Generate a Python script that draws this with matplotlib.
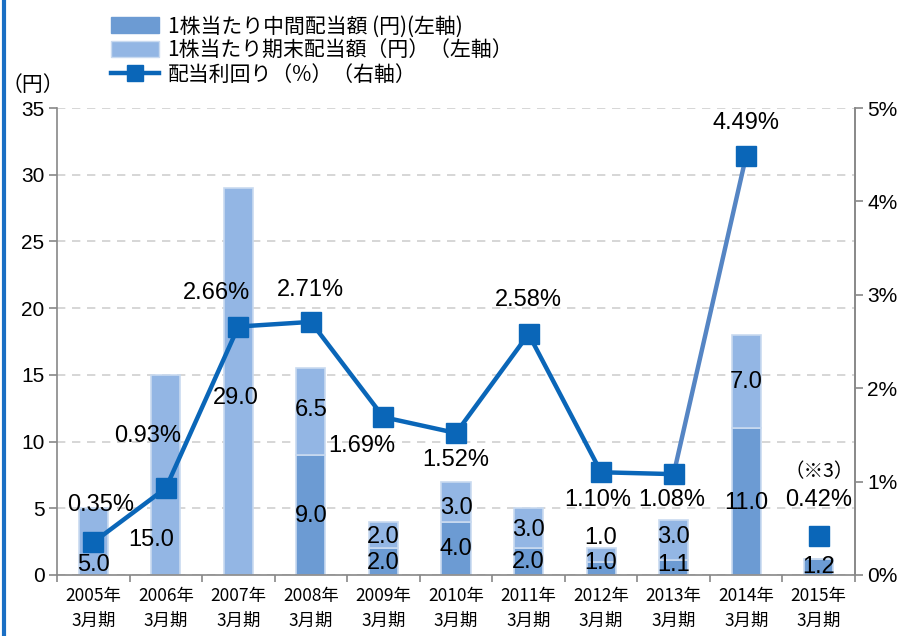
import matplotlib
matplotlib.use("Agg")
import matplotlib.pyplot as plt
import numpy as np
from matplotlib.lines import Line2D
from matplotlib.patches import Patch

plt.rcParams['font.family'] = ['Liberation Sans', 'Noto Sans CJK JP', 'DejaVu Sans']

categories = ["2005年\n3月期", "2006年\n3月期", "2007年\n3月期", "2008年\n3月期", "2009年\n3月期",
              "2010年\n3月期", "2011年\n3月期", "2012年\n3月期", "2013年\n3月期", "2014年\n3月期",
              "2015年\n3月期"]
interim = [0, 0, 0, 9.0, 2.0, 4.0, 2.0, 1.0, 1.1, 11.0, 1.2]
year_end = [5.0, 15.0, 29.0, 6.5, 2.0, 3.0, 3.0, 1.0, 3.0, 7.0, 0]
yield_pct = [0.35, 0.93, 2.66, 2.71, 1.69, 1.52, 2.58, 1.10, 1.08, 4.49, 0.42]

# label placement (left-axis units for bar labels, right-axis units for yield labels)
interim_lbl_y = [None, None, None, 4.4, 0.9, 1.95, 1.0, 0.9, 0.75, 5.4, 0.6]
end_lbl_y = [0.75, 2.6, 13.3, 12.4, 2.85, 5.0, 3.4, 2.8, 2.85, 14.5, None]
end_lbl_dx = [0, -0.2, -0.03, 0, 0, 0, 0, 0, 0, 0, 0]
yield_lbl_pos = [(0.1, 0.75), (-0.25, 1.49), (-0.3, 3.02), (0, 3.05), (-0.3, 1.38), (0, 1.23),
                 (0, 2.94), (-0.04, 0.80), (-0.02, 0.80), (0, 4.84), (0, 0.80)]

c_int = '#6c9bd3'
c_end = '#93b6e4'
c_line = '#0a66b8'
c_line2 = '#5585c4'

fig = plt.figure(figsize=(9.15, 6.36), dpi=100)
ax = fig.add_axes([57/915, 61/636, 798/915, 467/636])
x = np.arange(len(categories))
w = 0.4

ax.bar(x, interim, w, color=c_int, edgecolor='#c9daf0', linewidth=1.2, zorder=2)
ax.bar(x, year_end, w, bottom=interim, color=c_end, edgecolor='#c9daf0', linewidth=1.2, zorder=2)

ax.set_xlim(-0.5, len(categories) - 0.5)
ax.set_ylim(0, 35)
ax.set_yticks(np.arange(0, 36, 5))
ax.set_yticklabels([str(v) for v in range(0, 36, 5)], fontsize=15)
ax.yaxis.grid(True, color='#d0d0d0', linestyle=(0, (5, 4)), linewidth=1.2)
ax.set_axisbelow(True)
ax.set_xticks(x)
ax.set_xticklabels(categories, fontsize=12.5, family=['Noto Sans CJK JP'], linespacing=1.45)
ax.set_xticks(np.arange(-0.5, len(categories)), minor=True)
ax.tick_params(axis='x', which='major', length=0, pad=9)
ax.tick_params(axis='x', which='minor', length=5, color='#888888', width=1.2)
ax.tick_params(axis='y', length=6, color='#888888', width=1.2, pad=3)
ax.spines['top'].set_visible(False)
for s in ['left', 'bottom', 'right']:
    ax.spines[s].set_color('#888888')
    ax.spines[s].set_linewidth(1.2)

for i in range(len(categories)):
    if interim[i] and interim_lbl_y[i] is not None:
        ax.text(x[i], interim_lbl_y[i], f"{interim[i]:.1f}", ha='center', va='center', fontsize=17, zorder=6)
    if year_end[i] and end_lbl_y[i] is not None:
        ax.text(x[i] + end_lbl_dx[i], end_lbl_y[i], f"{year_end[i]:.1f}", ha='center', va='center', fontsize=17, zorder=6)

ax2 = ax.twinx()
ax2.set_ylim(0, 5)
ax2.set_yticks(np.arange(0, 6, 1))
ax2.set_yticklabels([f"{v}%" for v in range(6)], fontsize=15)
ax2.tick_params(axis='y', length=6, color='#888888', width=1.2, pad=3)
for s in ['top', 'left', 'bottom']:
    ax2.spines[s].set_visible(False)
ax2.spines['right'].set_color('#888888')
ax2.spines['right'].set_linewidth(1.2)

ax2.plot(x[:9], yield_pct[:9], color=c_line, linewidth=3.2, zorder=3)
ax2.plot(x[8:10], yield_pct[8:10], color=c_line2, linewidth=3.2, zorder=3)
ax2.plot(x[:11], yield_pct[:11], linestyle='none', marker='s', markersize=15, color=c_line, zorder=4)

for i, (dx, yy) in enumerate(yield_lbl_pos):
    ax2.text(x[i] + dx, yy, f"{yield_pct[i]:.2f}%", ha='center', va='center', fontsize=17, zorder=6)
ax2.text(x[10], 1.11, "（※3）", ha='center', va='center', fontsize=14,
         family=['Noto Sans CJK JP'], zorder=6)

fig.text(33/915, 1 - 85/636, "（円）", ha='center', va='center', fontsize=15, family=['Noto Sans CJK JP'])

handles = [Patch(facecolor=c_int, edgecolor=c_int),
           Patch(facecolor=c_end, edgecolor='#c9daf0'),
           Line2D([0], [0], color=c_line, linewidth=3.2, marker='s', markersize=11)]
labels = ["1株当たり中間配当額 (円)(左軸)", "1株当たり期末配当額（円）（左軸）", "配当利回り（%）（右軸）"]
fig.legend(handles, labels, loc='upper left', bbox_to_anchor=(103/915, 1 - 7/636), frameon=False,
           prop={'family': ['Noto Sans CJK JP'], 'size': 15}, handlelength=2.3, handleheight=0.8,
           labelspacing=0.1, handletextpad=0.4, borderaxespad=0)

fig.add_artist(Line2D([4/915, 4/915], [0, 1], color='#1a6fc4', linewidth=3, transform=fig.transFigure))

fig.savefig("out.png", dpi=100)
